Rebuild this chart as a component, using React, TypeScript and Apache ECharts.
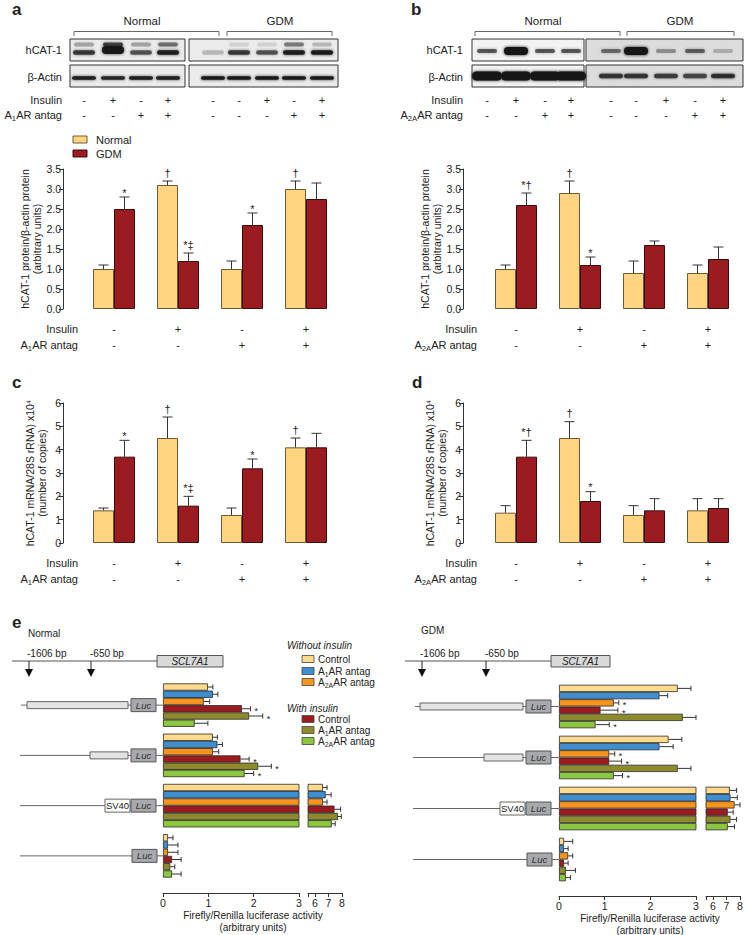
import React, { useEffect, useRef } from 'react';
import * as echarts from 'echarts';

const FONT = '"Liberation Sans", Arial, Helvetica, sans-serif';
const INK = '#222';

// ---------- panels a-d ----------
const groups = ['Basal', 'Insulin', 'Antagonist', 'Insulin + antagonist'];
const groupInsulin = ['-', '+', '-', '+'];
const groupAntag = ['-', '-', '+', '+'];

const aNormal = [1.0, 3.1, 1.0, 3.0];
const aNormalErr = [0.1, 0.1, 0.2, 0.2];
const aGdm = [2.5, 1.2, 2.1, 2.75];
const aGdmErr = [0.3, 0.2, 0.3, 0.4];
const aNormalMark = ['', '†', '', '†'];
const aGdmMark = ['*', '*‡', '*', ''];

const bNormal = [1.0, 2.9, 0.9, 0.9];
const bNormalErr = [0.1, 0.3, 0.3, 0.2];
const bGdm = [2.6, 1.1, 1.6, 1.25];
const bGdmErr = [0.3, 0.2, 0.1, 0.3];
const bNormalMark = ['', '†', '', ''];
const bGdmMark = ['*†', '*', '', ''];

const cNormal = [1.4, 4.5, 1.2, 4.1];
const cNormalErr = [0.1, 0.9, 0.3, 0.4];
const cGdm = [3.7, 1.6, 3.2, 4.1];
const cGdmErr = [0.7, 0.4, 0.4, 0.6];
const cNormalMark = ['', '†', '', '†'];
const cGdmMark = ['*', '*‡', '*', ''];

const dNormal = [1.3, 4.5, 1.2, 1.4];
const dNormalErr = [0.3, 0.7, 0.4, 0.5];
const dGdm = [3.7, 1.8, 1.4, 1.5];
const dGdmErr = [0.7, 0.4, 0.5, 0.4];
const dNormalMark = ['', '†', '', ''];
const dGdmMark = ['*†', '*', '', ''];

// western blot lanes (- / +) and band intensities
const blotInsulin = ['-', '+', '-', '+', '-', '-', '+', '-', '+'];
const blotAntag = ['-', '-', '+', '+', '-', '-', '-', '+', '+'];
const blotAHcat = [0.75, 0.95, 0.6, 0.9, 0.2, 0.75, 0.6, 0.9, 0.95];
const blotAHcatUpper = [0.3, 0.7, 0.3, 0.5, 0, 0.1, 0.1, 0.45, 0.2];
const blotAActin = [0.9, 0.85, 0.9, 0.9, 0.95, 0.95, 0.95, 0.95, 0.95];
const blotBHcat = [0.6, 1.0, 0.6, 0.6, 0.5, 1.0, 0.35, 0.55, 0.2];
const blotBActin = [1.0, 1.0, 1.0, 1.0, 0.75, 0.75, 0.7, 0.65, 0.8];

// ---------- panel e ----------
const constructs = ['-1606 bp', '-650 bp', 'SV40', 'Luc'];
const eConditionNames = ['Control', 'A1AR antag', 'A2AAR antag', 'Insulin + Control', 'Insulin + A1AR antag', 'Insulin + A2AAR antag'];
const eColors = ['#FDDA8C', '#3E8ED0', '#F7941E', '#9B1B1F', '#8D8B2B', '#8DC63F'];

const eNormCtrl = [0.99, 1.1, 6.6, 0.11];
const eNormCtrlErr = [0.11, 0.1, 0.3, 0.11];
const eNormA1 = [1.1, 1.2, 6.8, 0.11];
const eNormA1Err = [0.11, 0.11, 0.4, 0.22];
const eNormA2A = [0.9, 1.1, 6.6, 0.11];
const eNormA2AErr = [0.13, 0.13, 0.3, 0.22];
const eNormInsCtrl = [1.74, 1.71, 7.45, 0.2];
const eNormInsCtrlErr = [0.19, 0.19, 0.45, 0.2];
const eNormInsA1 = [1.9, 2.1, 7.7, 0.16];
const eNormInsA1Err = [0.3, 0.29, 0.25, 0.1];
const eNormInsA2A = [0.7, 1.8, 7.25, 0.2];
const eNormInsA2AErr = [0.29, 0.2, 0.25, 0.2];
const eNormMarkNone = ['', '', '', ''];
const eNormInsCtrlMark = ['*', '*', '', ''];
const eNormInsA1Mark = ['*', '*', '', ''];
const eNormInsA2AMark = ['', '*', '', ''];

const eGdmCtrl = [2.6, 2.4, 7.25, 0.11];
const eGdmCtrlErr = [0.29, 0.29, 0.5, 0.19];
const eGdmA1 = [2.2, 2.2, 7.3, 0.11];
const eGdmA1Err = [0.18, 0.3, 0.5, 0.09];
const eGdmA2A = [1.2, 1.1, 7.6, 0.2];
const eGdmA2AErr = [0.11, 0.12, 0.4, 0.1];
const eGdmInsCtrl = [0.91, 1.1, 7.1, 0.11];
const eGdmInsCtrlErr = [0.38, 0.27, 0.4, 0.09];
const eGdmInsA1 = [2.71, 2.6, 7.3, 0.15];
const eGdmInsA1Err = [0.29, 0.29, 0.45, 0.21];
const eGdmInsA2A = [0.8, 1.2, 7.1, 0.15];
const eGdmInsA2AErr = [0.3, 0.19, 0.5, 0.1];
const eGdmMarkNone = ['', '', '', ''];
const eGdmA2AMark = ['*', '*', '', ''];
const eGdmInsCtrlMark = ['*', '*', '', ''];
const eGdmInsA2AMark = ['*', '*', '', ''];

const eTicksA = [0, 1, 2, 3];
const eTicksB = [6, 7, 8];

// ---------- styling constants ----------
const NORMAL_C = '#FDD47F';
const GDM_C = '#9A1B20';
const V_BAR = 21;
const H_BAR = 7.25;
const BREAK_MIN = 5.5;
const SPLIT_MAX = 3;

const richBase = (fs: number) => ({
  n: { fontSize: fs, fontFamily: FONT, fill: INK, color: INK, lineHeight: fs + 3 },
  s: { fontSize: fs * 0.7, fontFamily: FONT, fill: INK, color: INK, lineHeight: fs * 0.7, verticalAlign: 'bottom' },
});

function txt(x: number, y: number, t: string, o: any = {}, z = 10) {
  return {
    type: 'text', x, y, silent: true, z,
    style: { text: t, fontFamily: FONT, fontSize: 11, fill: INK, align: 'left', verticalAlign: 'middle', ...o },
  };
}
function subTxt(x: number, y: number, pre: string, sub: string, post: string, fs: number, align: string) {
  return {
    type: 'text', x, y, silent: true, z: 10,
    style: {
      text: `{n|${pre}}{s|${sub}}{n|${post}}`, rich: richBase(fs), align, verticalAlign: 'middle',
      fontFamily: FONT, fontSize: fs, fill: INK,
    },
  };
}
function ln(x1: number, y1: number, x2: number, y2: number, stroke = '#555', lw = 1) {
  return { type: 'line', silent: true, z: 9, shape: { x1, y1, x2, y2 }, style: { stroke, lineWidth: lw } };
}
function rc(x: number, y: number, w: number, h: number, fill: string, stroke: string | null, lw = 1, z = 10) {
  return { type: 'rect', silent: true, z, shape: { x, y, width: w, height: h }, style: { fill, stroke: stroke || 'none', lineWidth: lw } };
}
function band(cx: number, cy: number, w: number, h: number, a: number) {
  if (a <= 0) return null;
  return {
    type: 'rect', silent: true, z: 11,
    shape: { x: cx - w / 2, y: cy - h / 2, width: w, height: h, r: h / 2 },
    style: { fill: `rgba(20,20,20,${a})`, shadowBlur: 3, shadowColor: `rgba(20,20,20,${a})` },
  };
}

function vErr(grid: number, values: number[], errs: number[], marks: string[], side: number) {
  return {
    type: 'custom', xAxisIndex: grid, yAxisIndex: grid, z: 5, silent: true,
    encode: { x: 0, y: 1 },
    data: values.map((v, i) => [i, v, errs[i]]),
    renderItem: (params: any, api: any) => {
      const i = api.value(0), v = api.value(1), e = api.value(2);
      const b = api.coord([i, v]);
      const t = api.coord([i, v + e]);
      const x = b[0] + (side * V_BAR) / 2;
      const mark = marks[params.dataIndex];
      const children: any[] = [
        { type: 'line', shape: { x1: x, y1: b[1], x2: x, y2: t[1] }, style: { stroke: '#333', lineWidth: 1 } },
        { type: 'line', shape: { x1: x - 5, y1: t[1], x2: x + 5, y2: t[1] }, style: { stroke: '#333', lineWidth: 1 } },
      ];
      if (mark) {
        const onlyStar = mark === '*';
        children.push({
          type: 'text', x, y: onlyStar ? t[1] + 1 : t[1] - 3,
          style: { text: mark, fontFamily: FONT, fontSize: 11, fill: INK, align: 'center', verticalAlign: 'bottom' },
        });
      }
      return { type: 'group', children };
    },
  };
}

function hErr(grid: number, sets: any[], part: 'A' | 'B') {
  const data: number[][] = [];
  sets.forEach((s: any, si: number) => s[0].forEach((v: number, ci: number) => data.push([v, ci, s[1][ci], si])));
  return {
    type: 'custom', xAxisIndex: grid, yAxisIndex: grid, z: 5, silent: true,
    encode: { x: 0, y: 1 },
    data,
    renderItem: (params: any, api: any) => {
      const v = api.value(0), c = api.value(1), e = api.value(2), si = api.value(3);
      if (part === 'A' && v > SPLIT_MAX) return { type: 'group', children: [] };
      if (part === 'B' && v < BREAK_MIN) return { type: 'group', children: [] };
      const p0 = api.coord([v, c]);
      const p1 = api.coord([v + e, c]);
      const y = p0[1] + (si - 2.5) * H_BAR;
      const mark = sets[si][2][c];
      const children: any[] = [
        { type: 'line', shape: { x1: p0[0], y1: y, x2: p1[0], y2: y }, style: { stroke: '#333', lineWidth: 1 } },
        { type: 'line', shape: { x1: p1[0], y1: y - 2.5, x2: p1[0], y2: y + 2.5 }, style: { stroke: '#333', lineWidth: 1 } },
      ];
      if (mark) {
        children.push({
          type: 'text', x: p1[0] + 4, y: y + 2.5,
          style: { text: mark, fontFamily: FONT, fontSize: 9, lineHeight: 6, fill: INK, align: 'left', verticalAlign: 'middle' },
        });
      }
      return { type: 'group', children };
    },
  };
}

function buildOption() {
  const vPanels = [
    { n: aNormal, ne: aNormalErr, g: aGdm, ge: aGdmErr, nm: aNormalMark, gm: aGdmMark, max: 3.5, interval: 0.5, dig: 1,
      name: 'hCAT-1 protein/β-actin protein\n(arbitrary units)', grid: { left: 82, top: 169, width: 256, height: 140 }, off: 19 },
    { n: bNormal, ne: bNormalErr, g: bGdm, ge: bGdmErr, nm: bNormalMark, gm: bGdmMark, max: 3.5, interval: 0.5, dig: 1,
      name: 'hCAT-1 protein/β-actin protein\n(arbitrary units)', grid: { left: 484, top: 169, width: 256, height: 140 }, off: 21 },
    { n: cNormal, ne: cNormalErr, g: cGdm, ge: cGdmErr, nm: cNormalMark, gm: cGdmMark, max: 6, interval: 1, dig: 0,
      name: 'hCAT-1 mRNA/28S rRNA) x10⁴\n(number of copies)', grid: { left: 82, top: 403, width: 256, height: 140 }, off: 19 },
    { n: dNormal, ne: dNormalErr, g: dGdm, ge: dGdmErr, nm: dNormalMark, gm: dGdmMark, max: 6, interval: 1, dig: 0,
      name: 'hCAT-1 mRNA/28S rRNA) x10⁴\n(number of copies)', grid: { left: 484, top: 403, width: 256, height: 140 }, off: 21 },
  ];
  const eGrids = [
    { left: 163, top: 680, width: 136, height: 201 },
    { left: 308, top: 680, width: 34, height: 201 },
    { left: 559, top: 681, width: 137, height: 204 },
    { left: 706, top: 681, width: 34, height: 204 },
  ];

  const grid: any[] = [];
  const xAxis: any[] = [];
  const yAxis: any[] = [];
  const series: any[] = [];

  vPanels.forEach((p, i) => {
    grid.push({ ...p.grid, outerBoundsMode: 'none' });
    xAxis.push({
      type: 'category', gridIndex: i, data: groups,
      axisLine: { show: false }, axisTick: { show: false }, splitLine: { show: false },
      axisLabel: {
        margin: 12, lineHeight: 16, fontSize: 11, fontFamily: FONT, color: INK, interval: 0,
        formatter: (_v: string, idx: number) => `${groupInsulin[idx]}\n${groupAntag[idx]}`,
      },
    });
    yAxis.push({
      type: 'value', gridIndex: i, min: 0, max: p.max, interval: p.interval, offset: p.off,
      axisLine: { show: true, lineStyle: { color: '#333', width: 1 } },
      axisTick: { show: true, length: 4, lineStyle: { color: '#333' } },
      splitLine: { show: false },
      axisLabel: { fontSize: 10.5, fontFamily: FONT, color: INK, margin: 2, formatter: (v: number) => v.toFixed(p.dig) },
      name: p.name, nameLocation: 'middle', nameGap: 15,
      nameTextStyle: { fontSize: 10.5, fontFamily: FONT, color: INK, lineHeight: 12 },
    });
    series.push({
      type: 'bar', name: 'Normal', xAxisIndex: i, yAxisIndex: i, data: p.n, barWidth: V_BAR, barGap: '0%', silent: true,
      itemStyle: { color: NORMAL_C, borderColor: '#6d5a35', borderWidth: 1 },
    });
    series.push({
      type: 'bar', name: 'GDM', xAxisIndex: i, yAxisIndex: i, data: p.g, barWidth: V_BAR, barGap: '0%', silent: true,
      itemStyle: { color: GDM_C, borderColor: '#3a0c0e', borderWidth: 1 },
    });
    series.push(vErr(i, p.n, p.ne, p.nm, -1));
    series.push(vErr(i, p.g, p.ge, p.gm, 1));
  });

  const normSets = [
    [eNormCtrl, eNormCtrlErr, eNormMarkNone],
    [eNormA1, eNormA1Err, eNormMarkNone],
    [eNormA2A, eNormA2AErr, eNormMarkNone],
    [eNormInsCtrl, eNormInsCtrlErr, eNormInsCtrlMark],
    [eNormInsA1, eNormInsA1Err, eNormInsA1Mark],
    [eNormInsA2A, eNormInsA2AErr, eNormInsA2AMark],
  ];
  const gdmSets = [
    [eGdmCtrl, eGdmCtrlErr, eGdmMarkNone],
    [eGdmA1, eGdmA1Err, eGdmMarkNone],
    [eGdmA2A, eGdmA2AErr, eGdmA2AMark],
    [eGdmInsCtrl, eGdmInsCtrlErr, eGdmInsCtrlMark],
    [eGdmInsA1, eGdmInsA1Err, eGdmMarkNone],
    [eGdmInsA2A, eGdmInsA2AErr, eGdmInsA2AMark],
  ];

  eGrids.forEach((g, k) => {
    const gi = 4 + k;
    const part = k % 2 === 0 ? 'A' : 'B';
    const sets = k < 2 ? normSets : gdmSets;
    grid.push({ ...g, outerBoundsMode: 'none' });
    xAxis.push({
      type: 'value', gridIndex: gi,
      min: part === 'A' ? 0 : BREAK_MIN, max: part === 'A' ? SPLIT_MAX : 8,
      interval: part === 'A' ? 1 : undefined,
      position: 'bottom', offset: k < 2 ? 12 : 11,
      axisLine: { show: true, lineStyle: { color: '#333', width: 1 } },
      axisTick: { show: true, length: 4, lineStyle: { color: '#333' }, ...(part === 'B' ? { customValues: [BREAK_MIN, ...eTicksB] } : { customValues: eTicksA }) },
      splitLine: { show: false },
      axisLabel: { fontSize: 10.5, fontFamily: FONT, color: INK, margin: 4, customValues: part === 'A' ? eTicksA : eTicksB, showMinLabel: true, showMaxLabel: true },
    });
    yAxis.push({ type: 'category', gridIndex: gi, data: constructs, inverse: true, show: false });
    sets.forEach((s: any, si: number) => {
      series.push({
        type: 'bar', name: eConditionNames[si], xAxisIndex: gi, yAxisIndex: gi, data: s[0], barWidth: H_BAR, barGap: '0%',
        clip: true, silent: true, itemStyle: { color: eColors[si], borderColor: '#2a2a2a', borderWidth: 0.8 },
      });
    });
    series.push(hErr(gi, sets, part as any));
  });

  return { animation: false, backgroundColor: '#ffffff', grid, xAxis, yAxis, series };
}

function buildGraphics(chart: any) {
  const G: any[] = [];
  const push = (e: any) => { if (e) G.push(e); };

  // panel letters
  push(txt(12, 9, 'a', { fontSize: 17, fontWeight: 'bold' }));
  push(txt(411, 9, 'b', { fontSize: 17, fontWeight: 'bold' }));
  push(txt(12, 382, 'c', { fontSize: 17, fontWeight: 'bold' }));
  push(txt(412, 382, 'd', { fontSize: 17, fontWeight: 'bold' }));
  push(txt(12, 622, 'e', { fontSize: 17, fontWeight: 'bold' }));

  // ---- blots ----
  const blot = (cfg: any) => {
    push(txt(cfg.hx1, 21, 'Normal', { fontSize: 11.5, align: 'center' }));
    push(txt(cfg.hx2, 21, 'GDM', { fontSize: 11.5, align: 'center' }));
    cfg.brackets.forEach((b: number[]) => push({
      type: 'polyline', silent: true, z: 9, shape: { points: [[b[0], 36], [b[0], 31.5], [b[1], 31.5], [b[1], 36]] },
      style: { stroke: '#666', lineWidth: 1, fill: 'none' },
    }));
    push(txt(cfg.labelX, 50, 'hCAT-1', { fontSize: 11, align: 'right' }));
    push(txt(cfg.labelX, 77, 'β-Actin', { fontSize: 11, align: 'right' }));
    cfg.boxes.forEach((b: number[], bi: number) => {
      push(rc(b[0], 39, b[1] - b[0], 22, cfg.fills[bi], '#333', 1));
      push(rc(b[0], 65, b[1] - b[0], 22, cfg.fills[bi], '#333', 1));
    });
    cfg.lanes.forEach((x: number, li: number) => {
      push(txt(x, 100, blotInsulin[li], { fontSize: 11, align: 'center' }));
      push(txt(x, 115, blotAntag[li], { fontSize: 11, align: 'center' }));
      cfg.drawBands(x, li);
    });
    push(txt(cfg.labelX, 100, 'Insulin', { fontSize: 11, align: 'right' }));
    push(subTxt(cfg.labelX, 115, 'A', cfg.sub, 'AR antag', 11, 'right'));
  };

  blot({
    hx1: 142, hx2: 280, brackets: [[74, 219], [227, 332]], labelX: 62,
    boxes: [[70, 185], [189, 338]], fills: ['#ebebeb', '#ebebeb'],
    lanes: [84, 113, 141, 168, 213, 239, 267, 294, 322], sub: '1',
    drawBands: (x: number, li: number) => {
      const thick = li === 1;
      push(band(x, thick ? 50 : 52.5, 22, thick ? 8 : 4.5, blotAHcat[li]));
      push(band(x, 44.5, 20, 4, blotAHcatUpper[li]));
      push(band(x, 78, 24, 3.5, blotAActin[li]));
    },
  });
  blot({
    hx1: 543, hx2: 680, brackets: [[475, 620], [627, 734]], labelX: 463,
    boxes: [[472, 584], [586, 743]], fills: ['#f2f2f2', '#dcdcdc'],
    lanes: [487, 516, 545, 571, 611, 636, 666, 695, 723], sub: '2A',
    drawBands: (x: number, li: number) => {
      const big = blotBHcat[li] >= 1;
      push(band(x, 51, big ? 24 : 20, big ? 8 : 4, blotBHcat[li]));
      const nrm = li < 4;
      push(band(x, 76, nrm ? 30 : 24, nrm ? 9 : 4.5, blotBActin[li]));
    },
  });

  // legend a
  push(rc(73, 136, 14, 7, NORMAL_C, '#6d5a35', 1));
  push(txt(96, 139.5, 'Normal', { fontSize: 11 }));
  push(rc(73, 150, 14, 7, GDM_C, '#3a0c0e', 1));
  push(txt(96, 153.5, 'GDM', { fontSize: 11 }));

  // row labels under bar charts
  [[78, 329, 345, '1'], [477, 329, 345, '2A'], [78, 563, 579, '1'], [477, 563, 579, '2A']].forEach((r: any) => {
    push(txt(r[0], r[1], 'Insulin', { fontSize: 11, align: 'right' }));
    push(subTxt(r[0], r[2], 'A', r[3], 'AR antag', 11, 'right'));
  });

  // ---- panel e diagrams ----
  const gene = (cfg: any) => {
    push(txt(cfg.titleX, cfg.titleY, cfg.title, { fontSize: 10 }));
    push(ln(cfg.lineX0, 661, cfg.boxX0, 661, '#555'));
    push(rc(cfg.boxX0, 655.5, cfg.boxX1 - cfg.boxX0, 11.5, '#d9d9d9', '#555', 1));
    push(txt((cfg.boxX0 + cfg.boxX1) / 2, 661.5, 'SCL7A1', { fontSize: 10, fontStyle: 'italic', align: 'center' }, 12));
    push(txt(cfg.t1, 653, '-1606 bp', { fontSize: 10 }));
    push(txt(cfg.t2, 653, '-650 bp', { fontSize: 10 }));
    [cfg.a1, cfg.a2].forEach((x: number) => {
      push(ln(x, 661, x, 670, '#222'));
      push({ type: 'polygon', silent: true, z: 10, shape: { points: [[x - 4, 669], [x + 4, 669], [x, 677]] }, style: { fill: '#111' } });
    });
    const yAt = (i: number) => {
      const r = chart.convertToPixel({ yAxisIndex: cfg.axis }, constructs[i]);
      return Array.isArray(r) ? r[1] : r;
    };
    const luc = (x0: number, y: number) => {
      push(rc(x0, y - 6.5, 25, 13, '#a7a9ac', '#555', 1, 11));
      push(txt(x0 + 12.5, y, 'Luc', { fontSize: 9.5, fontStyle: 'italic', align: 'center', fill: '#333' }, 12));
    };
    // construct 1
    let y = yAt(0);
    push(ln(cfg.c1Line, y, cfg.zeroX, y, '#666'));
    push(rc(cfg.c1Box, y - 3.5, cfg.promEnd - cfg.c1Box, 7, '#e3e3e3', '#666', 1, 11));
    luc(cfg.lucX, y);
    // construct 2
    y = yAt(1);
    push(ln(cfg.cLine, y, cfg.zeroX, y, '#666'));
    push(rc(cfg.c2Box, y - 3.5, cfg.promEnd - cfg.c2Box, 7, '#e3e3e3', '#666', 1, 11));
    luc(cfg.lucX, y);
    // construct 3
    y = yAt(2);
    push(ln(cfg.cLine, y, cfg.zeroX, y, '#666'));
    push(rc(cfg.lucX - 26, y - 6.5, 25, 13, '#ffffff', '#666', 1, 11));
    push(txt(cfg.lucX - 13.5, y, 'SV40', { fontSize: 9.5, align: 'center' }, 12));
    luc(cfg.lucX, y);
    // construct 4
    y = yAt(3);
    push(ln(cfg.cLine, y, cfg.zeroX, y, '#666'));
    luc(cfg.lucX + 1, y);
  };
  gene({
    title: 'Normal', titleX: 28, titleY: 633, lineX0: 12, boxX0: 157, boxX1: 223, t1: 27, t2: 90, a1: 29, a2: 91,
    axis: 4, c1Line: 21, c1Box: 27, c2Box: 90, promEnd: 128, cLine: 20, lucX: 131, zeroX: 163,
  });
  gene({
    title: 'GDM', titleX: 421, titleY: 630, lineX0: 405, boxX0: 551, boxX1: 610, t1: 420, t2: 485, a1: 422, a2: 486,
    axis: 6, c1Line: 415, c1Box: 420, c2Box: 484, promEnd: 523, cLine: 413, lucX: 526, zeroX: 559,
  });

  // legend e
  push(txt(287, 645, 'Without insulin', { fontSize: 10, fontStyle: 'italic' }));
  push(txt(287, 708, 'With insulin', { fontSize: 10, fontStyle: 'italic' }));
  const legY = [659, 671, 682, 719, 730, 741];
  legY.forEach((y, i) => {
    push(rc(302, y - 3.5, 12, 7, eColors[i], '#444', 0.8));
    const k = i % 3;
    if (k === 0) push(txt(318, y, 'Control', { fontSize: 10 }));
    else push(subTxt(318, y, 'A', k === 1 ? '1' : '2A', 'AR antag', 10, 'left'));
  });

  // x-axis titles e
  push(txt(253, 915, 'Firefly/Renilla luciferase activity', { fontSize: 10, align: 'center' }));
  push(txt(253, 927, '(arbitrary units)', { fontSize: 10, align: 'center' }));
  push(txt(650, 918, 'Firefly/Renilla luciferase activity', { fontSize: 10, align: 'center' }));
  push(txt(650, 930, '(arbitrary units)', { fontSize: 10, align: 'center' }));

  return G;
}

export default function App() {
  const ref = useRef<HTMLDivElement>(null);
  useEffect(() => {
    const chart = echarts.init(ref.current!, null, { renderer: 'svg' });
    chart.setOption(buildOption() as any);
    chart.setOption({ graphic: buildGraphics(chart) } as any);
    return () => chart.dispose();
  }, []);
  return (
    <div
      ref={ref}
      style={{ position: 'absolute', left: 0, top: 0, width: 746, height: 935, background: '#fff' }}
    />
  );
}
